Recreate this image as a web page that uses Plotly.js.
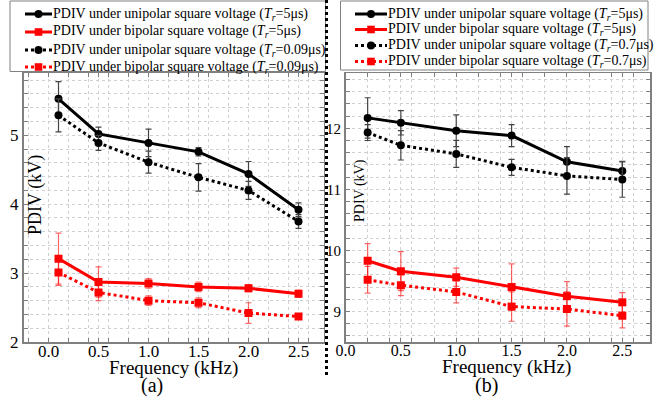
<!DOCTYPE html>
<html>
<head>
<meta charset="utf-8">
<script src="https://cdn.plot.ly/plotly-3.0.1.min.js"></script>
<style>html,body{margin:0;padding:0;background:#fff;}#chart{width:669px;height:400px;}</style>
</head>
<body>
<div id="chart"></div>
<script>
// ---- Data ----
const freqA = [0.1, 0.5, 1.0, 1.5, 2.0, 2.5];
const uniA5 = [5.53, 5.02, 4.89, 4.76, 4.44, 3.92];
const uniA5Err = [0.25, 0.10, 0.20, 0.06, 0.18, 0.10];
const bipA5 = [3.21, 2.87, 2.85, 2.80, 2.78, 2.70];
const bipA5Err = [0.37, 0.22, 0.07, 0.07, 0.05, 0.05];
const uniA009 = [5.29, 4.89, 4.61, 4.39, 4.20, 3.75];
const uniA009Err = [0.24, 0.11, 0.16, 0.20, 0.13, 0.10];
const bipA009 = [3.01, 2.72, 2.60, 2.57, 2.42, 2.37];
const bipA009Err = [0.19, 0.12, 0.07, 0.07, 0.15, 0.04];

const freqB = [0.2, 0.5, 1.0, 1.5, 2.0, 2.5];
const uniB5 = [12.17, 12.09, 11.96, 11.88, 11.45, 11.30];
const uniB5Err = [0.33, 0.20, 0.26, 0.18, 0.25, 0.16];
const uniB07 = [11.93, 11.72, 11.58, 11.36, 11.22, 11.16];
const uniB07Err = [0.13, 0.24, 0.22, 0.13, 0.30, 0.29];
const bipB5 = [9.83, 9.66, 9.56, 9.40, 9.25, 9.15];
const bipB5Err = [0.28, 0.32, 0.15, 0.38, 0.24, 0.16];
const bipB07 = [9.52, 9.43, 9.32, 9.08, 9.04, 8.93];
const bipB07Err = [0.22, 0.17, 0.18, 0.24, 0.28, 0.20];

const tickVals = [0, 0.5, 1, 1.5, 2, 2.5];
const tickText = ['0.0', '0.5', '1.0', '1.5', '2.0', '2.5'];

const TR = '<i>T</i><sub><i>r</i></sub>';
const namesA = [
  'PDIV under unipolar square voltage (' + TR + '=5μs)',
  'PDIV under bipolar square voltage (' + TR + '=5μs)',
  'PDIV under unipolar square voltage (' + TR + '=0.09μs)',
  'PDIV under bipolar square voltage (' + TR + '=0.09μs)'
];
const namesB = [
  'PDIV under unipolar square voltage (' + TR + '=5μs)',
  'PDIV under bipolar square voltage (' + TR + '=5μs)',
  'PDIV under unipolar square voltage (' + TR + '=0.7μs)',
  'PDIV under bipolar square voltage (' + TR + '=0.7μs)'
];

// ---- Helpers ----
const W = 669, H = 400;
const px = v => v / W;
const py = v => 1 - v / H;
const FONT = '"Liberation Serif", "Times New Roman", Times, serif';

const styles = [
  {color: '#000000', dash: 'solid', symbol: 'circle'},
  {color: '#ff0000', dash: 'solid', symbol: 'square'},
  {color: '#000000', dash: 'dot', symbol: 'circle'},
  {color: '#ff0000', dash: 'dot', symbol: 'square'}
];
const errColors = ['#444444', 'rgba(255,0,0,0.6)', '#444444', 'rgba(255,0,0,0.6)'];

function tr(x, y, err, name, k, xa, ya) {
  const s = styles[k];
  return {
    x: x, y: y, name: name, type: 'scatter', mode: 'lines+markers',
    xaxis: xa, yaxis: ya, showlegend: false,
    line: {color: s.color, width: 3, dash: s.dash},
    marker: {color: s.color, symbol: s.symbol, size: 8},
    error_y: {type: 'data', array: err, visible: true, color: errColors[k], thickness: 1.2, width: 3}
  };
}

const data = [
  tr(freqA, uniA5, uniA5Err, namesA[0], 0, 'x', 'y'),
  tr(freqA, bipA5, bipA5Err, namesA[1], 1, 'x', 'y'),
  tr(freqA, uniA009, uniA009Err, namesA[2], 2, 'x', 'y'),
  tr(freqA, bipA009, bipA009Err, namesA[3], 3, 'x', 'y'),
  tr(freqB, uniB5, uniB5Err, namesB[0], 0, 'x2', 'y2'),
  tr(freqB, bipB5, bipB5Err, namesB[1], 1, 'x2', 'y2'),
  tr(freqB, uniB07, uniB07Err, namesB[2], 2, 'x2', 'y2'),
  tr(freqB, bipB07, bipB07Err, namesB[3], 3, 'x2', 'y2')
];

function axis(extra, fs) {
  return Object.assign({
    showline: true, linecolor: '#808080', linewidth: 1.5, mirror: 'ticks',
    ticks: 'inside', ticklen: 4, tickcolor: '#808080', tickwidth: 1,
    showgrid: true, gridcolor: '#d0d0d0', griddash: 'dot', gridwidth: 1,
    zeroline: false,
    tickfont: {family: FONT, size: fs, color: '#000'},
    minor: {ticks: 'inside', ticklen: 4, tickcolor: '#808080', showgrid: true, gridcolor: '#d0d0d0', griddash: 'dot', gridwidth: 1}
  }, extra);
}

// Legend drawn as a boxed key (legend geometry in page pixels)
const shapes = [];
const annotations = [];
function legendBox(box, rows, keyX0, keyX1, textX, names) {
  shapes.push({type: 'rect', xref: 'paper', yref: 'paper', x0: px(box[0]), x1: px(box[1]), y0: py(box[3]), y1: py(box[2]),
               line: {color: '#808080', width: 1}, fillcolor: '#ffffff', layer: 'above'});
  rows.forEach((ry, k) => {
    const s = styles[k];
    shapes.push({type: 'line', xref: 'paper', yref: 'paper', x0: px(keyX0), x1: px(keyX1), y0: py(ry), y1: py(ry),
                 line: {color: s.color, width: 3, dash: s.dash}, layer: 'above'});
    const cx = (keyX0 + keyX1) / 2, r = s.symbol === 'circle' ? 4 : 3.8;
    shapes.push({type: s.symbol === 'circle' ? 'circle' : 'rect', xref: 'paper', yref: 'paper',
                 x0: px(cx - r), x1: px(cx + r), y0: py(ry + r), y1: py(ry - r),
                 line: {color: s.color, width: 0}, fillcolor: s.color, layer: 'above'});
    annotations.push({text: names[k], xref: 'paper', yref: 'paper', x: px(textX), y: py(ry), xanchor: 'left', yanchor: 'middle',
                      showarrow: false, font: {family: FONT, size: 14, color: '#000'}, borderpad: 0});
  });
}
legendBox([10, 325.5, 1, 71.5], [14, 32, 50, 67], 25, 52, 52, namesA);
legendBox([340.5, 648, 1, 70], [14, 29.5, 45.5, 61.5], 355, 387, 387, namesB);

shapes.push({type: 'line', xref: 'paper', yref: 'paper', x0: px(326.5), x1: px(326.5), y0: 1, y1: py(378),
             line: {color: '#000', width: 3, dash: 'dot'}, layer: 'above'});

annotations.push(
  {text: 'PDIV (kV)', xref: 'paper', yref: 'paper', x: px(35), y: py(195), textangle: -90, showarrow: false,
   font: {family: FONT, size: 18}, xanchor: 'center', yanchor: 'middle'},
  {text: 'PDIV (kV)', xref: 'paper', yref: 'paper', x: px(360), y: py(191), textangle: -90, showarrow: false,
   font: {family: FONT, size: 14}, xanchor: 'center', yanchor: 'middle'},
  {text: 'Frequency (kHz)', xref: 'paper', yref: 'paper', x: px(174), y: py(368), showarrow: false,
   font: {family: FONT, size: 19}, xanchor: 'center', yanchor: 'middle'},
  {text: 'Frequency (kHz)', xref: 'paper', yref: 'paper', x: px(506), y: py(367), showarrow: false,
   font: {family: FONT, size: 19}, xanchor: 'center', yanchor: 'middle'},
  {text: '(a)', xref: 'paper', yref: 'paper', x: px(152), y: py(385), showarrow: false,
   font: {family: FONT, size: 20}, xanchor: 'center', yanchor: 'middle'},
  {text: '(b)', xref: 'paper', yref: 'paper', x: px(487), y: py(385), showarrow: false,
   font: {family: FONT, size: 20}, xanchor: 'center', yanchor: 'middle'}
);

const yTop = py(73.3), yBot = py(342);

const layout = {
  width: W, height: H,
  margin: {l: 0, r: 0, t: 0, b: 0},
  paper_bgcolor: '#fff', plot_bgcolor: '#fff',
  font: {family: FONT, color: '#000'},
  showlegend: false,
  xaxis: axis({domain: [px(23.5), px(323.5)], range: [-0.25, 2.75], tickvals: tickVals, ticktext: tickText, anchor: 'y', ticklabelstandoff: -7}, 17),
  yaxis: axis({domain: [yBot, yTop], range: [2, 5.9], dtick: 1, tick0: 0, anchor: 'x'}, 17),
  xaxis2: axis({domain: [px(345.5), px(650)], range: [0, 2.75], tickvals: tickVals, ticktext: tickText, anchor: 'y2', ticklabelstandoff: -7}, 16),
  yaxis2: axis({domain: [yBot, yTop], range: [8.5, 12.9], dtick: 1, tick0: 0, anchor: 'x2'}, 15),
  shapes: shapes,
  annotations: annotations
};

Plotly.newPlot('chart', data, layout, {displayModeBar: false, staticPlot: true});
</script>
</body>
</html>
